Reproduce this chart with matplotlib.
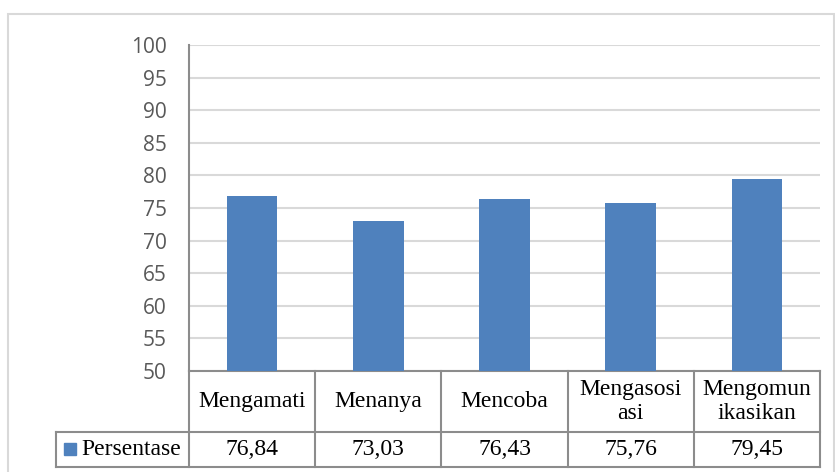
import numpy as np
import matplotlib.pyplot as plt
import matplotlib.transforms as mtransforms
from matplotlib.patches import Rectangle

categories = ["Mengamati", "Menanya", "Mencoba", "Mengasosi\nasi", "Mengomun\nikasikan"]
persentase = [76.84, 73.03, 76.43, 75.76, 79.45]
series_name = "Persentase"
yticks = [50, 55, 60, 65, 70, 75, 80, 85, 90, 95, 100]

bar_color = "#4f81bd"
line_gray = "#8c8c8c"
grid_gray = "#d9d9d9"

fig = plt.figure(figsize=(8.35, 4.72), dpi=100)

# outer chart frame
fig.patches.append(Rectangle((8 / 835, -0.01), 826 / 835, (472 - 14) / 472 + 0.01,
                             transform=fig.transFigure, fill=False,
                             edgecolor=grid_gray, linewidth=1.5))

ax = fig.add_axes([189 / 835, 101 / 472, 631 / 835, 326 / 472])
x = np.arange(len(categories))
ax.bar(x, persentase, width=0.4, color=bar_color, zorder=3)
ax.set_xlim(-0.5, len(categories) - 0.5)
ax.set_ylim(50, 100)
ax.set_yticks(yticks)
ax.set_yticklabels([str(v) for v in yticks], fontfamily="Open Sans", fontsize=15, color="#595959")
ax.tick_params(axis="y", length=0, pad=16)
ax.set_xticks([])
ax.grid(axis="y", color=grid_gray, linewidth=1.5, zorder=0)
for s in ["top", "right"]:
    ax.spines[s].set_visible(False)
ax.spines["left"].set_color(line_gray)
ax.spines["left"].set_linewidth(1.5)
ax.spines["bottom"].set_color(line_gray)
ax.spines["bottom"].set_linewidth(1.5)

# data table below the axis
trans = mtransforms.blended_transform_factory(ax.transData, ax.transAxes)
y_mid = -61 / 326
y_bot = -96 / 326
leg_left = (56 - 189) / 631
lw = 1.5
serif = "Liberation Serif"

bounds = np.arange(len(categories) + 1) - 0.5
for b in bounds:
    ax.plot([b, b], [0, y_bot], transform=trans, color=line_gray, lw=lw, clip_on=False)
ax.plot([leg_left, 1], [y_mid, y_mid], transform=ax.transAxes, color=line_gray, lw=lw, clip_on=False)
ax.plot([leg_left, 1], [y_bot, y_bot], transform=ax.transAxes, color=line_gray, lw=lw, clip_on=False)
ax.plot([leg_left, leg_left], [y_mid, y_bot], transform=ax.transAxes, color=line_gray, lw=lw, clip_on=False)

for i, (cat, val) in enumerate(zip(categories, persentase)):
    ax.text(i, y_mid / 2, cat, transform=trans, ha="center", va="center",
            fontfamily=serif, fontsize=17, linespacing=1.15)
    ax.text(i, (y_mid + y_bot) / 2, f"{val:.2f}".replace(".", ","), transform=trans,
            ha="center", va="center", fontfamily=serif, fontsize=17)

# legend key in the table
ax.add_patch(Rectangle(((64 - 189) / 631, (467 - 455 - 96) / 326), 12 / 631, 12 / 326,
                       transform=ax.transAxes, color=bar_color, clip_on=False))
ax.text((81 - 189) / 631, (y_mid + y_bot) / 2, series_name, transform=ax.transAxes,
        ha="left", va="center", fontfamily=serif, fontsize=17)

fig.savefig("out.png", dpi=100)
